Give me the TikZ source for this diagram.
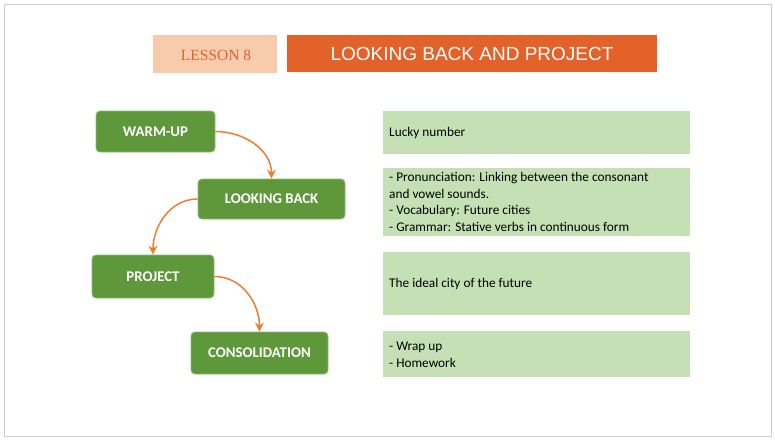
\documentclass[tikz,border=0pt]{standalone}
\usepackage{fontspec}
\setmainfont{Carlito}
\newfontfamily\titlefont{Liberation Sans}
\newfontfamily\lessonfont{Liberation Serif}
\usetikzlibrary{arrows.meta}
\definecolor{gfill}{HTML}{5F983B}
\definecolor{gedge}{HTML}{8DBB6E}
\definecolor{lgreen}{HTML}{C5E0B4}
\definecolor{orng}{HTML}{ED7D31}
\definecolor{ttl}{HTML}{E2622A}
\definecolor{peach}{HTML}{F8CBAD}
\tikzset{
 stepbox/.style={draw=gedge,fill=gfill,rounded corners=4pt,text=white,font=\bfseries\fontsize{14.8}{16}\selectfont,line width=0.8pt},
 body/.style={anchor=west,align=left,font=\fontsize{13.3}{16.8}\selectfont,inner xsep=0pt},
 conn/.style={draw=orng,line width=1.5pt,-{Stealth[length=9pt,width=9pt]}}
}
\begin{document}
\begin{tikzpicture}[x=1pt,y=-1pt]
\useasboundingbox (0,0) rectangle (775,439);
\draw[gray!40] (4,4) rectangle (771,436);
\fill[peach] (153,35) rectangle (277,73);
\node[text=ttl,font=\lessonfont\fontsize{15.5}{17}\selectfont] (lesson) at (216,55) {LESSON 8};
\fill[ttl] (287,35) rectangle (657,72);
\node[text=white,font=\titlefont\fontsize{19}{21}\selectfont] (title) at (472,53.5) {LOOKING BACK AND PROJECT};
\node[stepbox,minimum width=119pt,minimum height=41pt] (w) at (155.5,131.5) {WARM-UP};
\node[stepbox,minimum width=147pt,minimum height=40pt] (l) at (271.5,199) {LOOKING BACK};
\node[stepbox,minimum width=122pt,minimum height=43pt] (p) at (153,276.5) {PROJECT};
\node[stepbox,minimum width=137pt,minimum height=42pt] (c) at (259.5,353) {CONSOLIDATION};
\draw[conn] (w.east) to[out=0,in=90] (l.north);
\draw[conn] (l.west) to[out=180,in=90] (p.north);
\draw[conn] (p.east) to[out=0,in=90] (c.north);
\fill[lgreen] (383,111) rectangle (690,154);
\fill[lgreen] (383,168) rectangle (690,236);
\fill[lgreen] (383,252) rectangle (690,315);
\fill[lgreen] (383,331) rectangle (690,377);
\node[body] (t1) at (389,133) {Lucky number};
\node[body] (t2) at (389,202) {- Pronunciation: Linking between the consonant\\and vowel sounds.\\- Vocabulary: Future cities\\- Grammar: Stative verbs in continuous form};
\node[body] (t3) at (389,284) {The ideal city of the future};
\node[body] (t4) at (389,355) {- Wrap up\\- Homework};
\end{tikzpicture}
\end{document}
